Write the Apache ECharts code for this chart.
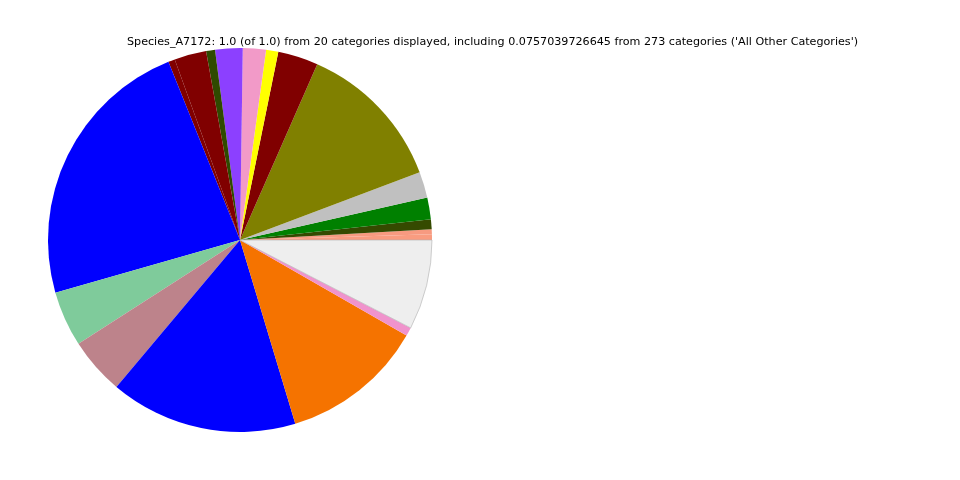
<!DOCTYPE html>
<html>
<head>
<meta charset="utf-8">
<script src="https://cdn.jsdelivr.net/npm/echarts@6/dist/echarts.min.js"></script>
<style>html,body{margin:0;padding:0;background:#fff;}#chart{width:960px;height:480px;}</style>
</head>
<body>
<div id="chart"></div>
<script>
var titleText = "Species_A7172: 1.0 (of 1.0) from 20 categories displayed, including 0.0757039726645 from 273 categories ('All Other Categories')";
var categories = ["Category 1","Category 2","Category 3","Category 4","Category 5","Category 6","Category 7","Category 8","Category 9","Category 10","Category 11","Category 12","Category 13","Category 14","Category 15","Category 16","Category 17","Category 18","Category 19","All Other Categories"];
var values = [0.0047,0.0042,0.0083,0.0183,0.0219,0.1267,0.0339,0.0103,0.0194,0.0231,0.0075,0.0269,0.0056,0.2334,0.0467,0.0478,0.1578,0.1206,0.0072,0.0757];
var colors = ["#f99c80","#f79a80","#354a00","#008000","#c0c0c0","#808000","#800000","#ffff00","#f29ac8","#8c40ff","#2f4a00","#800000","#800000","#0000ff","#7fcb9b","#bd838b","#0000ff","#f57300","#f093cc","#eeeeee"];

var chart = echarts.init(document.getElementById('chart'), null, {renderer: 'canvas'});
var data = categories.map(function(c, i){
  var item = {name: c, value: values[i], itemStyle: {color: colors[i]}};
  if (i === categories.length - 1) { item.itemStyle.borderColor = '#b0b0b0'; item.itemStyle.borderWidth = 0.6; }
  return item;
});
chart.setOption({
  animation: false,
  title: {
    text: titleText, left: 122, top: 32,
    textStyle: {fontFamily: 'DejaVu Sans', fontSize: 11.15, fontWeight: 'normal', color: '#000'}
  },
  series: [{
    type: 'pie',
    center: [240, 240],
    radius: 192,
    startAngle: 0,
    clockwise: false,
    avoidLabelOverlap: false,
    minShowLabelAngle: 0,
    label: {show: false},
    labelLine: {show: false},
    emphasis: {disabled: true},
    itemStyle: {borderWidth: 0},
    data: data
  }]
});
</script>
</body>
</html>
